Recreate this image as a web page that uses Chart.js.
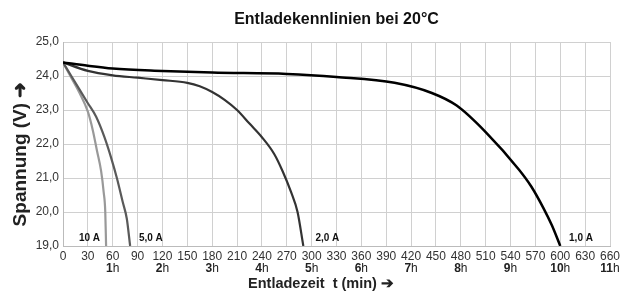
<!DOCTYPE html>
<html>
<head>
<meta charset="utf-8">
<script src="https://cdn.jsdelivr.net/npm/chart.js@4"></script>
<style>
  body { margin: 0; background: #fff; }
  #wrap { width: 627px; height: 292px; }
</style>
</head>
<body>
<div id="wrap"><canvas id="myChart" width="627" height="292"></canvas></div>
<script>
// Entladekennlinien - Werte
const t1A = [0, 30, 60, 120, 180, 270, 330, 400, 445, 475, 510, 550, 565, 580, 590, 600];
const u1A = [24.4, 24.3, 24.22, 24.15, 24.1, 24.06, 23.97, 23.8, 23.5, 23.13, 22.35, 21.25, 20.75, 20.1, 19.6, 19.0];

const t2A = [0, 30, 60, 90, 120, 150, 165, 180, 195, 210, 225, 240, 255, 265, 275, 283, 290];
const u2A = [24.4, 24.15, 24.02, 23.95, 23.88, 23.8, 23.7, 23.53, 23.3, 23.0, 22.6, 22.2, 21.7, 21.2, 20.6, 20.0, 19.0];

const t5A = [0, 10, 20, 30, 40, 50, 58, 65, 72, 77, 81];
const u5A = [24.4, 24.0, 23.6, 23.2, 22.8, 22.2, 21.6, 21.0, 20.3, 19.8, 19.0];

const t10A = [0, 10, 20, 30, 36, 41, 46, 49, 51, 52];
const u10A = [24.4, 23.95, 23.5, 22.95, 22.4, 21.8, 21.2, 20.6, 20.0, 19.0];

const serienNamen = ['1,0 A', '2,0 A', '5,0 A', '10 A'];
const stundenLabels = ['1h', '2h', '3h', '4h', '5h', '6h', '7h', '8h', '9h', '10h', '11h'];
const stundenMinuten = [60, 120, 180, 240, 300, 360, 420, 480, 540, 600, 660];

// Beschriftung der Kurven (in Achsenwerten)
const labelMin = [625, 319, 106, 32];
const labelV = [19.24, 19.24, 19.24, 19.24];

function pts(t, u) {
    return t.map((x, i) => ({ x: x, y: u[i] }));
}

const schrift = "'Liberation Sans', Arial, sans-serif";

// zeichnet Kurvennamen, Stunden-Zeile und Achsentitel
const extraText = {
    id: 'extraText',
    afterDraw(chart) {
        const c = chart.ctx;
        const xs = chart.scales.x;
        const ys = chart.scales.y;
        c.save();
        c.fillStyle = '#111';
        c.textAlign = 'center';
        c.textBaseline = 'middle';
        c.font = 'bold 10px ' + schrift;
        serienNamen.forEach((n, i) => {
            c.fillText(n, xs.getPixelForValue(labelMin[i]), ys.getPixelForValue(labelV[i]));
        });
        // Stunden: Zahl fett, "h" normal
        stundenLabels.forEach((s, i) => {
            const zahl = s.slice(0, -1);
            c.font = 'bold 12px ' + schrift;
            const w1 = c.measureText(zahl).width;
            c.font = '12px ' + schrift;
            const w2 = c.measureText('h').width;
            const cx = xs.getPixelForValue(stundenMinuten[i]);
            const x0 = cx - (w1 + w2) / 2;
            c.textAlign = 'left';
            c.fillStyle = '#222';
            c.font = 'bold 12px ' + schrift;
            c.fillText(zahl, x0, 269);
            c.font = '12px ' + schrift;
            c.fillText('h', x0 + w1, 269);
        });
        // x-Achsentitel
        c.textAlign = 'center';
        c.fillStyle = '#222';
        c.font = 'bold 14.5px ' + schrift;
        c.fillText('Entladezeit  t (min) ➔', 321, 284);
        // y-Achsentitel
        c.translate(21, 154);
        c.rotate(-Math.PI / 2);
        c.font = 'bold 19px ' + schrift;
        c.fillText('Spannung (V) ➜', 0, 0);
        c.restore();
    }
};

const ctx = document.getElementById('myChart');
const myChart = new Chart(ctx, {
    type: 'line',
    data: {
        datasets: [
            { label: serienNamen[0], data: pts(t1A, u1A), borderColor: '#000', borderWidth: 2.5 },
            { label: serienNamen[1], data: pts(t2A, u2A), borderColor: '#333', borderWidth: 2.2 },
            { label: serienNamen[2], data: pts(t5A, u5A), borderColor: '#5a5a5a', borderWidth: 2.2 },
            { label: serienNamen[3], data: pts(t10A, u10A), borderColor: '#999', borderWidth: 2.2 }
        ]
    },
    options: {
        responsive: false,
        animation: false,
        layout: { padding: { left: 0, right: 17, top: 0, bottom: 0 } },
        elements: {
            point: { radius: 0 },
            line: { cubicInterpolationMode: 'monotone', fill: false }
        },
        plugins: {
            legend: { display: false },
            tooltip: { enabled: false },
            title: {
                display: true,
                fullSize: false,
                text: 'Entladekennlinien bei 20°C',
                color: '#111',
                font: { family: schrift, size: 16, weight: 'bold' },
                padding: { top: 10, bottom: 12.8 }
            }
        },
        scales: {
            x: {
                type: 'linear',
                min: 0,
                max: 660,
                afterFit(scale) { scale.height = 46; },
                grid: { color: '#d0d0d0', drawTicks: false },
                border: { color: '#bbb' },
                ticks: {
                    stepSize: 30,
                    padding: 3,
                    color: '#333',
                    maxRotation: 0,
                    autoSkip: false,
                    font: { family: schrift, size: 12 }
                }
            },
            y: {
                min: 19,
                max: 25,
                afterFit(scale) { scale.width = 63; },
                grid: { color: '#d0d0d0', drawTicks: false },
                border: { color: '#bbb' },
                ticks: {
                    stepSize: 1,
                    padding: 4,
                    color: '#333',
                    font: { family: schrift, size: 12 },
                    callback: (v) => v.toFixed(1).replace('.', ',')
                }
            }
        }
    },
    plugins: [extraText]
});
</script>
</body>
</html>
